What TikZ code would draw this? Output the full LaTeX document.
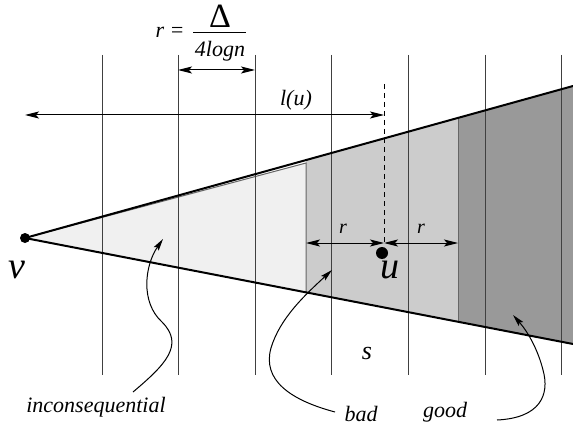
\documentclass[tikz,border=0pt]{standalone}
\usepackage{fontspec}
\setmainfont{Liberation Serif}
\usetikzlibrary{arrows.meta}

\begin{document}
\begin{tikzpicture}[x=0.5pt, y=-0.5pt, font=\fontsize{11}{13}\selectfont\itshape,
    grid/.style={black!75, line width=0.5pt},
    edge/.style={black, line width=1pt},
    measure/.style={black, line width=0.5pt, {Stealth[length=7pt,width=3.5pt,inset=1.5pt]}-{Stealth[length=7pt,width=3.5pt,inset=1.5pt]}},
    pointer/.style={black, line width=0.5pt, -{Stealth[length=6pt,width=3pt,inset=1pt]}},
    lbl/.style={inner sep=0pt}]
    \useasboundingbox (0,0) rectangle (573,433);
    % the three zones of the cone
    \fill[black!6] (25,238) -- (306,163) -- (306,292) -- cycle;
    \fill[black!20] (306,160) -- (458,118) -- (458,322) -- (306,292) -- cycle;
    \fill[black!40] (458,118) -- (573,86) -- (573,344) -- (458,322) -- cycle;
    \draw[black!60, line width=0.5pt] (25,238) -- (306,163) -- (306,292);
    \draw[black!60, line width=0.5pt] (458,118) -- (458,322);
    % vertical strips
    \foreach \x in {102,178,255,331,408,485,561}
      \draw[grid] (\x,55) -- (\x,375);
    % cone edges
    \coordinate (v) at (25,238);
    \coordinate (top) at (573,86);
    \coordinate (bottom) at (573,344);
    \draw[edge] (v) -- (top);
    \draw[edge] (v) -- (bottom);
    \fill (v) circle[radius=5];
    \node[lbl] (vlabel) at (17,270) {\fontsize{19}{19}\selectfont v};
    % the node u
    \coordinate (uTop) at (384,84);
    \coordinate (uBase) at (384,243);
    \draw[black, line width=0.5pt, dash pattern=on 2.5pt off 2pt] (uTop) -- (uBase);
    \node[circle, fill, inner sep=0pt, minimum size=6pt] (u) at (382,253) {};
    \node[lbl] (ulabel) at (390,270) {\fontsize{19}{19}\selectfont u};
    % distances
    \coordinate (lStart) at (25,115);
    \coordinate (lEnd) at (384,115);
    \draw[measure] (lStart) -- (lEnd);
    \node[lbl] (llabel) at (296,100) {l(u)};
    \coordinate (rLeft) at (178,70);
    \coordinate (rRight) at (255,70);
    \draw[measure] (rLeft) -- (rRight);
    \coordinate (badLeft) at (306,243);
    \coordinate (goodLeft) at (458,243);
    \draw[measure] (badLeft) -- (uBase);
    \draw[measure] (uBase) -- (goodLeft);
    \node[lbl, font=\fontsize{10}{12}\selectfont\itshape] (rA) at (343,229) {r};
    \node[lbl, font=\fontsize{10}{12}\selectfont\itshape] (rB) at (421,229) {r};
    % formula for r
    \node[lbl] (req) at (170,32) {r =};
    \node[lbl] (delta) at (220,16) {\fontsize{17}{17}\selectfont\upshape Δ};
    \node[lbl] (logn) at (220,51) {4logn};
    \draw[line width=0.5pt] (193,33) -- (246,33);
    % zone labels
    \node[lbl, font=\fontsize{13}{15}\selectfont\itshape] (s) at (367,353) {s};
    \node[lbl] (inc) at (96,407) {inconsequential};
    \node[lbl] (bad) at (361,414) {bad};
    \node[lbl] (good) at (445,412) {good};
    \coordinate (incFrom) at (133,392);
    \coordinate (incTip) at (163,239);
    \draw[pointer] (incFrom) .. controls (165,365) and (185,345) .. (162,322)
      .. controls (140,302) and (145,265) .. (incTip);
    \coordinate (badFrom) at (335,412);
    \coordinate (badTip) at (332,270);
    \draw[pointer] (badFrom) .. controls (290,400) and (262,380) .. (271,348)
      .. controls (280,318) and (305,295) .. (badTip);
    \coordinate (goodFrom) at (497,420);
    \coordinate (goodTip) at (513,315);
    \draw[pointer] (goodFrom) .. controls (540,418) and (550,395) .. (543,370)
      .. controls (538,350) and (528,332) .. (goodTip);
  \end{tikzpicture}
\end{document}
